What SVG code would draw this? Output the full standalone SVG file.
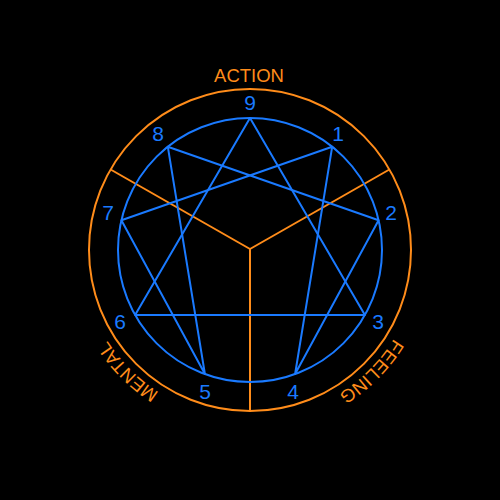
<svg xmlns="http://www.w3.org/2000/svg" width="500" height="500" viewBox="0 0 500 500">
  <defs>
    <style>
      .orange { fill: none; stroke: #ff8c1a; stroke-width: 2; }
      .blue { fill: none; stroke: #1a7aff; stroke-width: 2; stroke-linejoin: round; }
      .num { font-family: "Liberation Sans", Arial, sans-serif; font-size: 21px; fill: #1a7aff; text-anchor: middle; }
      .lbl { font-family: "Liberation Sans", Arial, sans-serif; font-size: 18.5px; fill: #ff8c1a; text-anchor: middle; }
    </style>
    <path id="ring" d="M 419 250 A 169 169 0 1 1 81 250 A 169 169 0 1 1 419 250"/>
  </defs>
  <rect width="500" height="500" fill="#000"/>

  <g id="outer">
    <circle class="orange" cx="250" cy="250" r="161"/>
  </g>
  <g id="connectors">
    <line class="orange" x1="250" y1="249" x2="110.6" y2="169.5"/>
    <line class="orange" x1="250" y1="249" x2="389.4" y2="169.5"/>
    <line class="orange" x1="250" y1="249" x2="250" y2="411"/>
    <polygon class="blue" points="250,118 364.9,315 135.1,315"/>
    <polygon class="blue" points="332.2,146.7 295.1,374 378.6,220.3 167.8,146.7 204.9,374 121.4,220.3"/>
  </g>
  <g id="inner">
    <circle class="blue" cx="250" cy="250" r="132"/>
  </g>

  <g id="n9"><text class="num" x="250" y="109.5">9</text></g>
  <g id="n1"><text class="num" x="338" y="140.5">1</text></g>
  <g id="n2"><text class="num" x="391" y="219.5">2</text></g>
  <g id="n3"><text class="num" x="378" y="328.5">3</text></g>
  <g id="n4"><text class="num" x="293" y="398.5">4</text></g>
  <g id="n5"><text class="num" x="205" y="398.5">5</text></g>
  <g id="n6"><text class="num" x="120" y="328.5">6</text></g>
  <g id="n7"><text class="num" x="108" y="219.5">7</text></g>
  <g id="n8"><text class="num" x="158" y="140.5">8</text></g>

  <g id="action"><text class="lbl" x="249" y="81.5">ACTION</text></g>
  <g id="feeling"><text class="lbl"><textPath href="#ring" startOffset="132.7">FEELING</textPath></text></g>
  <g id="mental"><text class="lbl"><textPath href="#ring" startOffset="398.2">MENTAL</textPath></text></g>
</svg>
